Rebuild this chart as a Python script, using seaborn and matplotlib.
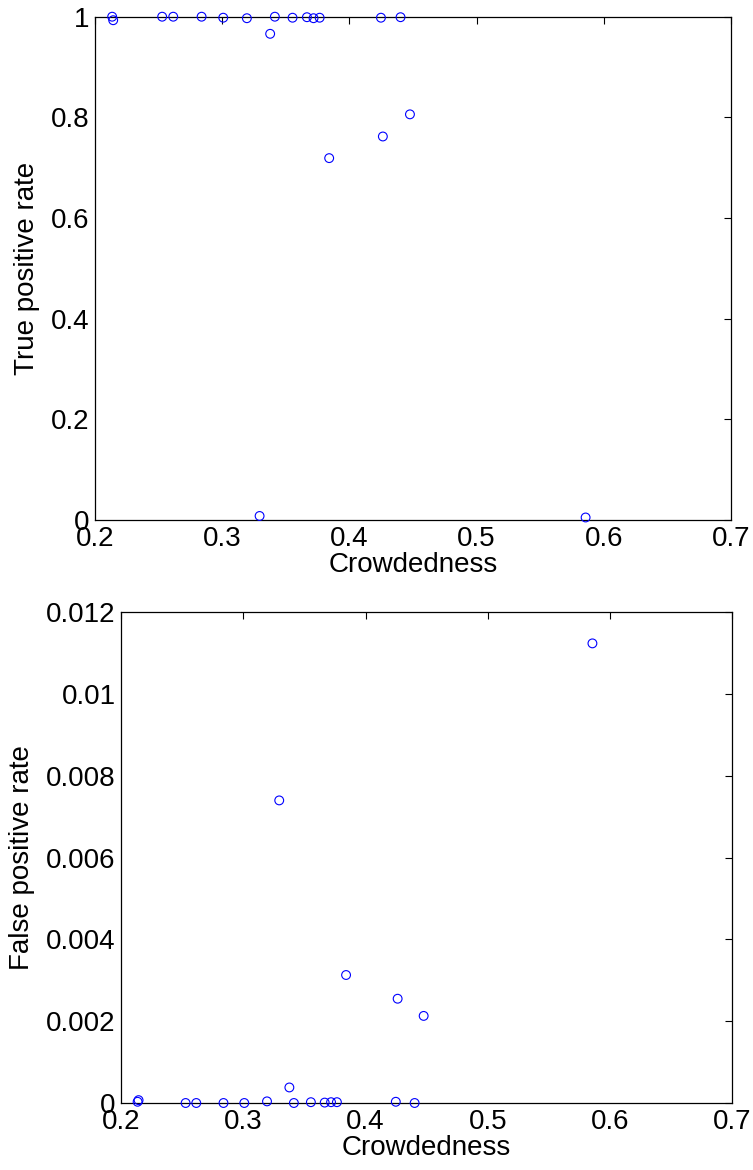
import matplotlib
matplotlib.use("Agg")
import matplotlib.pyplot as plt
import seaborn as sns
import pandas as pd

# Data
crowdedness = [0.2135, 0.2143, 0.2528, 0.2615, 0.2838, 0.3008, 0.3194, 0.3294,
               0.3377, 0.3414, 0.3553, 0.3666, 0.3718, 0.3766, 0.3841, 0.4248,
               0.4263, 0.4402, 0.4476, 0.5857]
true_positive_rate = [1.000, 0.993, 1.000, 1.000, 1.000, 0.998, 0.997, 0.008,
                      0.966, 1.000, 0.998, 0.999, 0.997, 0.998, 0.719, 0.998,
                      0.762, 0.999, 0.806, 0.005]
false_positive_rate = [0.00003, 0.00007, 0.0, 0.0, 0.0, 0.0, 0.00004, 0.0074,
                       0.00038, 0.0, 0.00002, 0.00001, 0.00002, 0.00002, 0.00313,
                       0.00003, 0.00255, 0.0, 0.00213, 0.01124]

x_ticks = [0.2, 0.3, 0.4, 0.5, 0.6, 0.7]
x_tick_labels = ["0.2", "0.3", "0.4", "0.5", "0.6", "0.7"]
tpr_ticks = [0, 0.2, 0.4, 0.6, 0.8, 1.0]
tpr_tick_labels = ["0", "0.2", "0.4", "0.6", "0.8", "1"]
fpr_ticks = [0, 0.002, 0.004, 0.006, 0.008, 0.010, 0.012]
fpr_tick_labels = ["0", "0.002", "0.004", "0.006", "0.008", "0.01", "0.012"]

df = pd.DataFrame({"Crowdedness": crowdedness,
                   "TPR": true_positive_rate,
                   "FPR": false_positive_rate})

sns.set_style("white")
plt.rcParams["font.family"] = ["Liberation Sans", "DejaVu Sans"]
plt.rcParams["font.size"] = 20
plt.rcParams["text.color"] = "black"
plt.rcParams["axes.labelcolor"] = "black"

fig = plt.figure(figsize=(7.53, 11.70), dpi=100)
ax1 = fig.add_axes([95 / 753, 1 - 520 / 1170, 636 / 753, 503.3 / 1170])
ax2 = fig.add_axes([121.1 / 753, 1 - 1103 / 1170, 611 / 753, 490.7 / 1170])

marker_kw = dict(marker="o", s=40, facecolor="none", edgecolor="#0000ff",
                 linewidth=0.8, zorder=3, clip_on=False)

sns.scatterplot(data=df, x="Crowdedness", y="TPR", ax=ax1, **marker_kw)
sns.scatterplot(data=df, x="Crowdedness", y="FPR", ax=ax2, **marker_kw)

for ax, yt, ytl, ylim, ylab in [
        (ax1, tpr_ticks, tpr_tick_labels, (0, 1), "True positive rate"),
        (ax2, fpr_ticks, fpr_tick_labels, (0, 0.012), "False positive rate")]:
    ax.set_xlim(0.2, 0.7)
    ax.set_ylim(*ylim)
    ax.set_xticks(x_ticks)
    ax.set_xticklabels(x_tick_labels)
    ax.set_yticks(yt)
    ax.set_yticklabels(ytl)
    ax.set_xlabel("Crowdedness", fontsize=20, labelpad=0, color="black")
    ax.set_ylabel(ylab, fontsize=20, labelpad=8, color="black")
    ax.tick_params(direction="in", length=5, width=0.8, top=True, right=True,
                   labelsize=20, pad=4, colors="black")
    for sp in ax.spines.values():
        sp.set_visible(True)
        sp.set_color("black")
        sp.set_linewidth(0.9)

fig.savefig("out.png", dpi=100, facecolor="white")
